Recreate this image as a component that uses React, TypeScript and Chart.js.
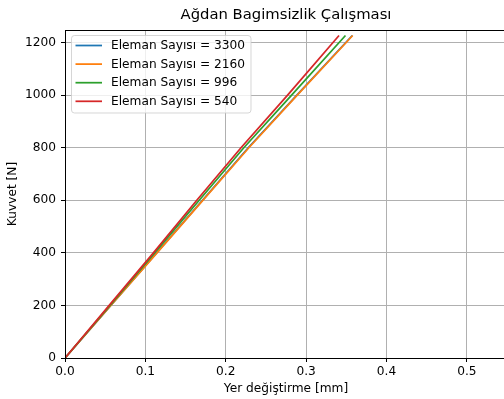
import React, { useEffect, useRef } from "react";
import { Chart, registerables } from "chart.js";

Chart.register(...registerables);

const chartTitle = "Ağdan Bagimsizlik Çalışması";
const xTitle = "Yer değiştirme [mm]";
const yTitle = "Kuvvet [N]";

const forceN = [0, 200, 400, 600, 800, 1000, 1227];
const disp3300 = [0, 0.057, 0.114, 0.171, 0.228, 0.2885, 0.3575];
const disp2160 = [0, 0.057, 0.1145, 0.1715, 0.2288, 0.289, 0.358];
const disp996 = [0, 0.056, 0.1115, 0.167, 0.2225, 0.282, 0.349];
const disp540 = [0, 0.055, 0.11, 0.164, 0.219, 0.277, 0.341];

const seriesLabels = [
  "Eleman Sayısı = 3300",
  "Eleman Sayısı = 2160",
  "Eleman Sayısı = 996",
  "Eleman Sayısı = 540",
];
const seriesDisp = [disp3300, disp2160, disp996, disp540];
const seriesColors = ["#1f77b4", "#ff7f0e", "#2ca02c", "#d62728"];

const xMin = 0;
const xMax = 0.55;
const xStep = 0.1;
const yMin = 0;
const yMax = 1248;
const yStep = 200;

const FONT = "'DejaVu Sans', sans-serif";
const TICK_SIZE = 12.2;

const framePlugin = {
  id: "frameAndLegend",
  afterDatasetsDraw(chart: any) {
    const { ctx, chartArea } = chart;
    const { left, top, right, bottom } = chartArea;
    ctx.save();
    ctx.strokeStyle = "#000";
    ctx.lineWidth = 1;
    ctx.strokeRect(left + 0.5, top + 0.5, right - left, bottom - top);
    ctx.restore();
  },
  afterDraw(chart: any) {
    const { ctx, chartArea } = chart;
    const L = chartArea.left;
    const T = chartArea.top;
    const bx = L + 6.5;
    const by = T + 5.5;
    const bw = 179.5;
    const bh = 77.5;
    const r = 3;
    ctx.save();
    ctx.beginPath();
    ctx.moveTo(bx + r, by);
    ctx.lineTo(bx + bw - r, by);
    ctx.arcTo(bx + bw, by, bx + bw, by + r, r);
    ctx.lineTo(bx + bw, by + bh - r);
    ctx.arcTo(bx + bw, by + bh, bx + bw - r, by + bh, r);
    ctx.lineTo(bx + r, by + bh);
    ctx.arcTo(bx, by + bh, bx, by + bh - r, r);
    ctx.lineTo(bx, by + r);
    ctx.arcTo(bx, by, bx + r, by, r);
    ctx.closePath();
    ctx.fillStyle = "rgba(255,255,255,0.8)";
    ctx.fill();
    ctx.strokeStyle = "rgba(204,204,204,0.8)";
    ctx.lineWidth = 1;
    ctx.stroke();

    chart.data.datasets.forEach((ds: any, i: number) => {
      const ry = T + 15.5 + i * 18.6;
      ctx.beginPath();
      ctx.strokeStyle = ds.borderColor;
      ctx.lineWidth = 1.75;
      ctx.moveTo(L + 10.5, ry);
      ctx.lineTo(L + 37, ry);
      ctx.stroke();
      ctx.fillStyle = "#000";
      ctx.font = `${TICK_SIZE}px ${FONT}`;
      ctx.textBaseline = "middle";
      ctx.textAlign = "left";
      ctx.fillText(ds.label, L + 46, ry + 0.5);
    });
    ctx.restore();
  },
};

export default function App() {
  const canvasRef = useRef<HTMLCanvasElement | null>(null);

  useEffect(() => {
    if (!canvasRef.current) return;
    const datasets = seriesLabels.map((label, i) => ({
      label,
      data: forceN.map((f, k) => ({ x: seriesDisp[i][k], y: f })),
      borderColor: seriesColors[i],
      backgroundColor: seriesColors[i],
      borderWidth: 1.75,
      pointRadius: 0,
      showLine: true,
      fill: false,
      tension: 0,
      order: seriesLabels.length - i,
    }));

    const chart = new Chart(canvasRef.current, {
      type: "scatter",
      data: { datasets },
      options: {
        animation: false,
        responsive: false,
        devicePixelRatio: 1,
        layout: { padding: { left: 0, right: 3, top: 0, bottom: 0 } },
        plugins: {
          legend: { display: false },
          tooltip: { enabled: false },
          title: {
            display: true,
            text: chartTitle,
            fullSize: false,
            color: "#000",
            font: { family: FONT, size: 14.8, weight: "normal" },
            padding: { top: 6.6, bottom: 5.64 },
          },
        },
        scales: {
          x: {
            type: "linear",
            min: xMin,
            max: xMax,
            afterFit(scale: any) {
              scale.height = 41;
            },
            border: { display: false },
            grid: {
              color: "#b0b0b0",
              lineWidth: 1,
              tickColor: "#000",
              tickLength: 4,
              drawTicks: true,
            },
            ticks: {
              stepSize: xStep,
              includeBounds: false,
              color: "#000",
              padding: 3,
              maxRotation: 0,
              font: { family: FONT, size: TICK_SIZE },
              callback: (v: any) => Number(v).toFixed(1),
            },
            title: {
              display: true,
              text: xTitle,
              color: "#000",
              font: { family: FONT, size: TICK_SIZE },
              padding: { top: 0, bottom: 2.7 },
            },
          },
          y: {
            type: "linear",
            min: yMin,
            max: yMax,
            afterFit(scale: any) {
              scale.width = 65;
            },
            border: { display: false },
            grid: {
              color: "#b0b0b0",
              lineWidth: 1,
              tickColor: "#000",
              tickLength: 4,
              drawTicks: true,
            },
            ticks: {
              stepSize: yStep,
              includeBounds: false,
              color: "#000",
              padding: 5,
              font: { family: FONT, size: TICK_SIZE },
              callback: (v: any) => String(Math.round(Number(v))),
            },
            title: {
              display: true,
              text: yTitle,
              color: "#000",
              font: { family: FONT, size: TICK_SIZE },
              padding: { top: 5.7, bottom: 0 },
            },
          },
        },
      },
      plugins: [framePlugin],
    });
    return () => chart.destroy();
  }, []);

  return (
    <div
      style={{
        position: "fixed",
        left: 0,
        top: 0,
        width: 504,
        height: 399,
        overflow: "hidden",
        background: "#fff",
      }}
    >
      <canvas
        ref={canvasRef}
        width={510}
        height={399}
        style={{ display: "block", width: 510, height: 399 }}
      />
    </div>
  );
}
